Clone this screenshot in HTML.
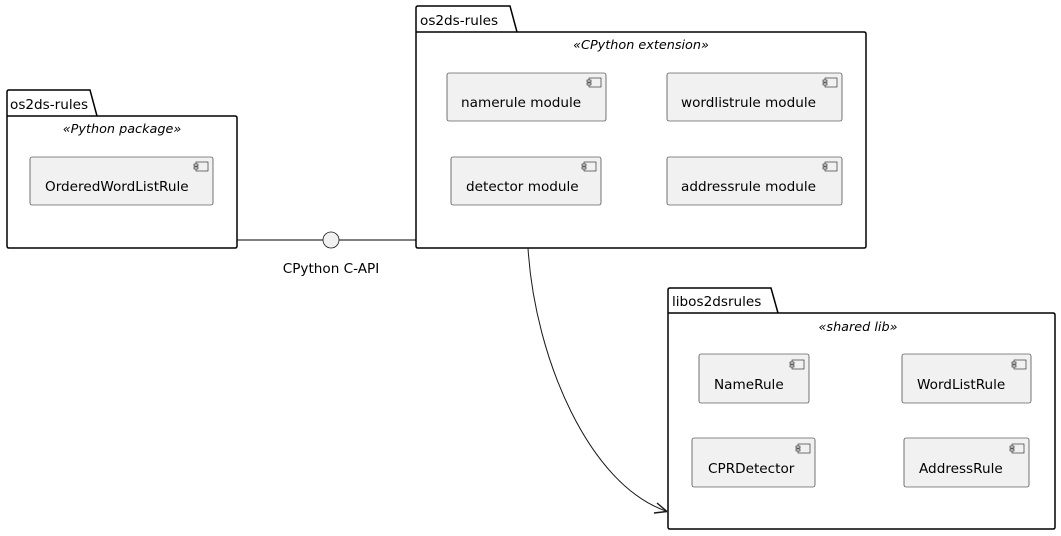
<!DOCTYPE html>
<html><head><meta charset="utf-8"><style>
html,body{margin:0;padding:0;background:#fff}
svg{display:block}
text{font-family:"DejaVu Sans","Liberation Sans",sans-serif;fill:#000}
.pk{fill:none;stroke:#000;stroke-width:1.5}
.cp{fill:#f1f1f1;stroke:#181818;stroke-width:.6}
.t{font-size:13.6px}
.st{font-size:12.8px;font-style:italic}
</style></head><body>
<svg width="1061" height="536" viewBox="0 0 1061 536" xmlns="http://www.w3.org/2000/svg">
<defs>
<g id="ic"><rect x="0" y="0" width="12" height="9" fill="#f1f1f1" stroke="#181818" stroke-width=".6"/><rect x="-2" y="2" width="4" height="2" fill="#f1f1f1" stroke="#181818" stroke-width=".6"/><rect x="-2" y="5" width="4" height="2" fill="#f1f1f1" stroke="#181818" stroke-width=".6"/></g>
</defs>
<!-- left package -->
<path class="pk" d="M7,116 L7,92 Q7,90 9,90 L90,90 L97,116 M7,116 L235,116 Q237,116 237,118 L237,246 Q237,248 235,248 L9,248 Q7,248 7,246 Z"/>
<text class="t" x="10" y="109">os2ds-rules</text>
<text class="st" x="122" y="133" text-anchor="middle">«Python package»</text>
<rect class="cp" x="30" y="157" width="183" height="48" rx="2"/><use href="#ic" x="196" y="162"/>
<text class="t" x="45" y="191">OrderedWordListRule</text>
<!-- top package -->
<path class="pk" d="M416,32 L416,8 Q416,6 418,6 L510,6 L517,32 M416,32 L864,32 Q866,32 866,34 L866,246 Q866,248 864,248 L418,248 Q416,248 416,246 Z"/>
<text class="t" x="420" y="25">os2ds-rules</text>
<text class="st" x="641" y="49" text-anchor="middle">«CPython extension»</text>
<rect class="cp" x="447" y="73" width="159" height="48" rx="2"/><use href="#ic" x="589" y="78"/>
<text class="t" x="461" y="107">namerule module</text>
<rect class="cp" x="667" y="73" width="175" height="48" rx="2"/><use href="#ic" x="825" y="78"/>
<text class="t" x="681" y="107">wordlistrule module</text>
<rect class="cp" x="451" y="157" width="150" height="48" rx="2"/><use href="#ic" x="584" y="162"/>
<text class="t" x="466" y="191">detector module</text>
<rect class="cp" x="667" y="157" width="175" height="48" rx="2"/><use href="#ic" x="825" y="162"/>
<text class="t" x="681" y="191">addressrule module</text>
<!-- interface -->
<line x1="237" y1="240" x2="323" y2="240" stroke="#000" stroke-width="1"/>
<line x1="339" y1="240" x2="416" y2="240" stroke="#000" stroke-width="1"/>
<circle cx="331" cy="240" r="8" fill="#f1f1f1" stroke="#181818" stroke-width=".8"/>
<text class="t" x="331" y="273" text-anchor="middle">CPython C-API</text>
<!-- lib package -->
<path class="pk" d="M668,313 L668,290 Q668,288 670,288 L771,288 L778,313 M668,313 L1053,313 Q1055,313 1055,315 L1055,527 Q1055,529 1053,529 L670,529 Q668,529 668,527 Z"/>
<text class="t" x="672" y="306">libos2dsrules</text>
<text class="st" x="858" y="331" text-anchor="middle">«shared lib»</text>
<rect class="cp" x="699" y="354" width="110" height="49" rx="2"/><use href="#ic" x="792" y="360"/>
<text class="t" x="714" y="389">NameRule</text>
<rect class="cp" x="902" y="354" width="129" height="49" rx="2"/><use href="#ic" x="1014" y="360"/>
<text class="t" x="917" y="389">WordListRule</text>
<rect class="cp" x="692" y="438" width="123" height="49" rx="2"/><use href="#ic" x="798" y="444"/>
<text class="t" x="708" y="473">CPRDetector</text>
<rect class="cp" x="904" y="438" width="125" height="49" rx="2"/><use href="#ic" x="1012" y="444"/>
<text class="t" x="919" y="473">AddressRule</text>
<!-- arrow -->
<path d="M528,248 C535,360 590,485 666,511" fill="none" stroke="#181818" stroke-width="1"/>
<path d="M667,511.5 L657,503 M667,511.5 L654,513" stroke="#181818" stroke-width="1.4" fill="none"/>
</svg>
</body></html>
